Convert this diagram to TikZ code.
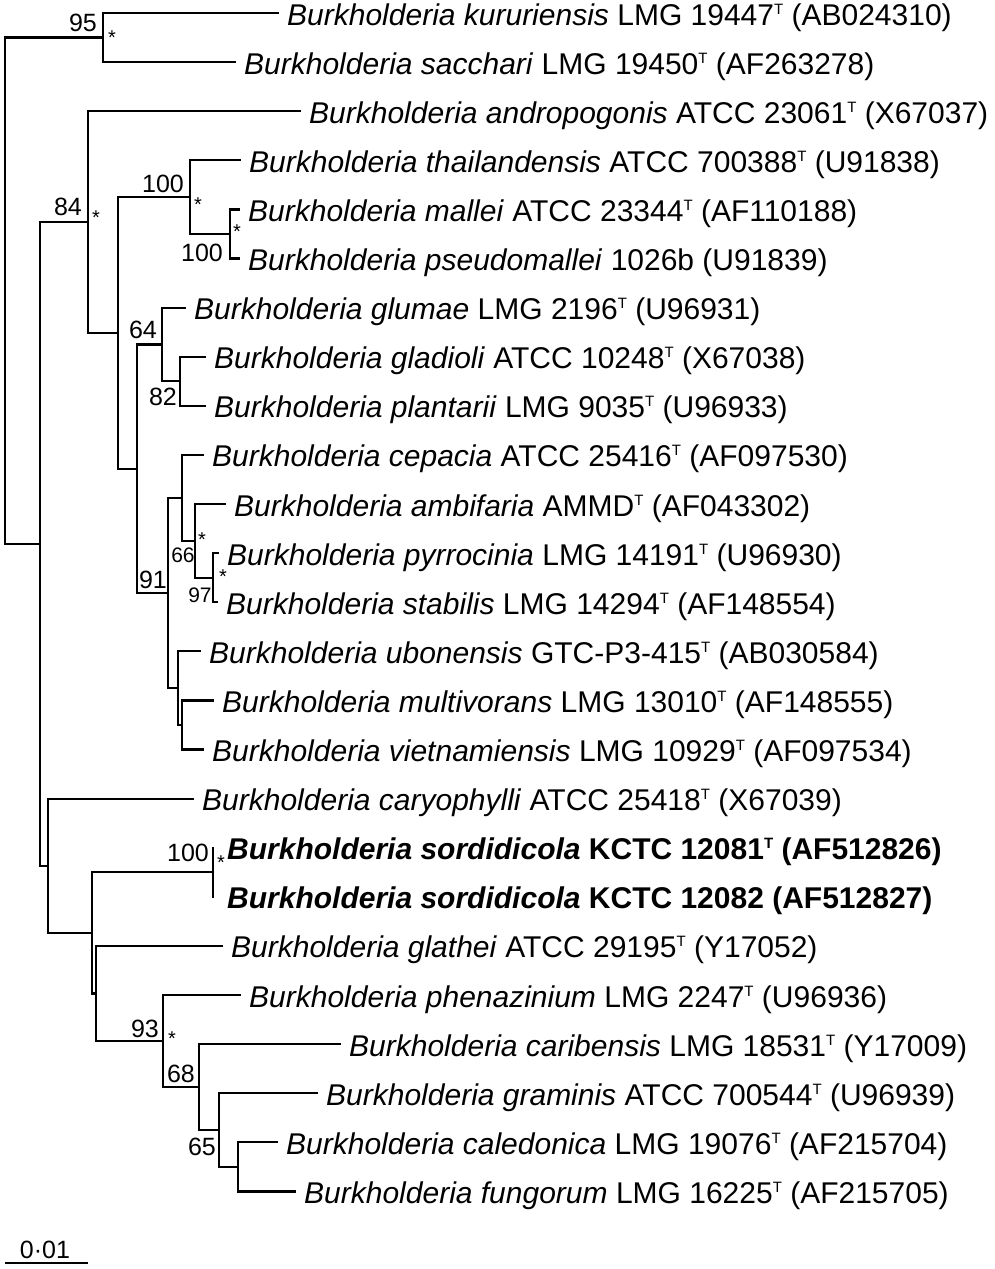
\documentclass[tikz,border=0pt]{standalone}
\usepackage{fontspec}
\setmainfont{Liberation Sans}
\newcommand\supT{\raisebox{11pt}{\fontsize{15}{15}\selectfont T}}
\begin{document}
\begin{tikzpicture}[x=1pt,y=-1pt,
  branch/.style={line width=2.2pt, line cap=rect},
  leaf/.style={anchor=base west, inner sep=0pt, font=\fontsize{30}{36}\selectfont, xshift=9pt, yshift=-12pt},
  boot/.style={inner sep=0pt, font=\fontsize{25}{29}\selectfont},
  bootsmall/.style={inner sep=0pt, font=\fontsize{21}{24}\selectfont},
  ast/.style={anchor=base, inner sep=0pt, font=\fontsize{20}{24}\selectfont, yshift=-11pt}]
\useasboundingbox (0,0) rectangle (994,1269);
% leaf ends
\coordinate (l1) at (278,13);
\coordinate (l2) at (235,62.1);
\coordinate (l3) at (300,111.2);
\coordinate (l4) at (240,160.3);
\coordinate (l5) at (239,209.4);
\coordinate (l6) at (239,258.5);
\coordinate (l7) at (185,307.6);
\coordinate (l8) at (205,356.7);
\coordinate (l9) at (205,405.8);
\coordinate (l10) at (203,454.9);
\coordinate (l11) at (225,504);
\coordinate (l12) at (218,553.1);
\coordinate (l13) at (217,602.2);
\coordinate (l14) at (200,651.3);
\coordinate (l15) at (213,700.4);
\coordinate (l16) at (203,749.5);
\coordinate (l17) at (193,798.6);
\coordinate (l18) at (213,847.7);
\coordinate (l19) at (213,896.8);
\coordinate (l20) at (222,945.9);
\coordinate (l21) at (240,995);
\coordinate (l22) at (340,1044.1);
\coordinate (l23) at (317,1093.2);
\coordinate (l24) at (277,1142.3);
\coordinate (l25) at (295,1191.4);
% internal nodes
\coordinate (nA) at (103,37.55);
\coordinate (nM) at (230,233.95);
\coordinate (nT) at (190,197.1);
\coordinate (n82) at (180,381.25);
\coordinate (n64) at (162,344.4);
\coordinate (n97) at (213,577.65);
\coordinate (n66) at (195,540.8);
\coordinate (nCep) at (182,497.9);
\coordinate (nMV) at (182,724.95);
\coordinate (nUbo) at (178,688.1);
\coordinate (n91) at (168,593);
\coordinate (n137) at (137,468.7);
\coordinate (n118) at (118,332.9);
\coordinate (n84) at (88,222.05);
\coordinate (nS) at (213,872.25);
\coordinate (nCF) at (238,1166.85);
\coordinate (n65) at (219,1130.0);
\coordinate (n68) at (199,1087.05);
\coordinate (n93) at (163,1041.0);
\coordinate (nGla) at (96,993.45);
\coordinate (n92) at (92,932.85);
\coordinate (n48) at (48,865.7);
\coordinate (n40) at (40,543.9);
\coordinate (root) at (5,290.7);
% branches
\draw[branch] (root) |- (nA) (root) |- (n40);
\draw[branch] (nA) |- (l1) (nA) |- (l2);
\draw[branch] (n40) |- (n84) (n40) |- (n48);
\draw[branch] (n84) |- (l3) (n84) |- (n118);
\draw[branch] (n118) |- (nT) (n118) |- (n137);
\draw[branch] (nT) |- (l4) (nT) |- (nM);
\draw[branch] (nM) |- (l5) (nM) |- (l6);
\draw[branch] (n137) |- (n64) (n137) |- (n91);
\draw[branch] (n64) |- (l7) (n64) |- (n82);
\draw[branch] (n82) |- (l8) (n82) |- (l9);
\draw[branch] (n91) |- (nCep) (n91) |- (nUbo);
\draw[branch] (nCep) |- (l10) (nCep) |- (n66);
\draw[branch] (n66) |- (l11) (n66) |- (n97);
\draw[branch] (n97) |- (l12) (n97) |- (l13);
\draw[branch] (nUbo) |- (l14) (nUbo) |- (nMV);
\draw[branch] (nMV) |- (l15) (nMV) |- (l16);
\draw[branch] (n48) |- (l17) (n48) |- (n92);
\draw[branch] (n92) |- (nS) (n92) |- (nGla);
\draw[branch] (nS) |- (l18) (nS) |- (l19);
\draw[branch] (nGla) |- (l20) (nGla) |- (n93);
\draw[branch] (n93) |- (l21) (n93) |- (n68);
\draw[branch] (n68) |- (l22) (n68) |- (n65);
\draw[branch] (n65) |- (l23) (n65) |- (nCF);
\draw[branch] (nCF) |- (l24) (nCF) |- (l25);
% taxa
\node[leaf] (t1) at (l1) {\textit{Burkholderia kururiensis} LMG 19447\supT{} (AB024310)};
\node[leaf] (t2) at (l2) {\textit{Burkholderia sacchari} LMG 19450\supT{} (AF263278)};
\node[leaf] (t3) at (l3) {\textit{Burkholderia andropogonis} ATCC 23061\supT{} (X67037)};
\node[leaf] (t4) at (l4) {\textit{Burkholderia thailandensis} ATCC 700388\supT{} (U91838)};
\node[leaf] (t5) at (l5) {\textit{Burkholderia mallei} ATCC 23344\supT{} (AF110188)};
\node[leaf] (t6) at (l6) {\textit{Burkholderia pseudomallei} 1026b (U91839)};
\node[leaf] (t7) at (l7) {\textit{Burkholderia glumae} LMG 2196\supT{} (U96931)};
\node[leaf] (t8) at (l8) {\textit{Burkholderia gladioli} ATCC 10248\supT{} (X67038)};
\node[leaf] (t9) at (l9) {\textit{Burkholderia plantarii} LMG 9035\supT{} (U96933)};
\node[leaf] (t10) at (l10) {\textit{Burkholderia cepacia} ATCC 25416\supT{} (AF097530)};
\node[leaf] (t11) at (l11) {\textit{Burkholderia ambifaria} AMMD\supT{} (AF043302)};
\node[leaf] (t12) at (l12) {\textit{Burkholderia pyrrocinia} LMG 14191\supT{} (U96930)};
\node[leaf] (t13) at (l13) {\textit{Burkholderia stabilis} LMG 14294\supT{} (AF148554)};
\node[leaf] (t14) at (l14) {\textit{Burkholderia ubonensis} GTC-P3-415\supT{} (AB030584)};
\node[leaf] (t15) at (l15) {\textit{Burkholderia multivorans} LMG 13010\supT{} (AF148555)};
\node[leaf] (t16) at (l16) {\textit{Burkholderia vietnamiensis} LMG 10929\supT{} (AF097534)};
\node[leaf] (t17) at (l17) {\textit{Burkholderia caryophylli} ATCC 25418\supT{} (X67039)};
\node[leaf, xshift=5pt] (t18) at (l18) {\bfseries\textit{Burkholderia sordidicola} KCTC 12081\supT{} (AF512826)};
\node[leaf, xshift=5pt] (t19) at (l19) {\bfseries\textit{Burkholderia sordidicola} KCTC 12082 (AF512827)};
\node[leaf] (t20) at (l20) {\textit{Burkholderia glathei} ATCC 29195\supT{} (Y17052)};
\node[leaf] (t21) at (l21) {\textit{Burkholderia phenazinium} LMG 2247\supT{} (U96936)};
\node[leaf] (t22) at (l22) {\textit{Burkholderia caribensis} LMG 18531\supT{} (Y17009)};
\node[leaf] (t23) at (l23) {\textit{Burkholderia graminis} ATCC 700544\supT{} (U96939)};
\node[leaf] (t24) at (l24) {\textit{Burkholderia caledonica} LMG 19076\supT{} (AF215704)};
\node[leaf] (t25) at (l25) {\textit{Burkholderia fungorum} LMG 16225\supT{} (AF215705)};
% bootstrap values
\node[boot] (b95) at (83,23) {95};
\node[boot] (b84) at (68,207) {84};
\node[boot] (b100a) at (163,184) {100};
\node[boot] (b100b) at (202,253) {100};
\node[boot] (b64) at (143,330) {64};
\node[boot] (b82) at (163,397) {82};
\node[bootsmall] (b66) at (183,555) {66};
\node[boot] (b91) at (153,580) {91};
\node[bootsmall] (b97) at (200,595) {97};
\node[boot] (b100c) at (188,853) {100};
\node[boot] (b93) at (145,1029) {93};
\node[boot] (b68) at (181,1074) {68};
\node[boot] (b65) at (202,1147) {65};
% asterisks
\node[ast] (s1) at (112,33) {*};
\node[ast] (s2) at (96,213) {*};
\node[ast] (s3) at (198,200) {*};
\node[ast] (s4) at (237,227) {*};
\node[ast] (s5) at (202,535) {*};
\node[ast] (s6) at (223,572) {*};
\node[ast] (s7) at (221,858) {*};
\node[ast] (s8) at (172,1034) {*};
% scale bar
\coordinate (sb1) at (5,1263);
\coordinate (sb2) at (88,1263);
\draw[line width=2.2pt] (sb1) -- (sb2);
\node[boot] (sbl) at (45,1250) {0·01};
\end{tikzpicture}
\end{document}
